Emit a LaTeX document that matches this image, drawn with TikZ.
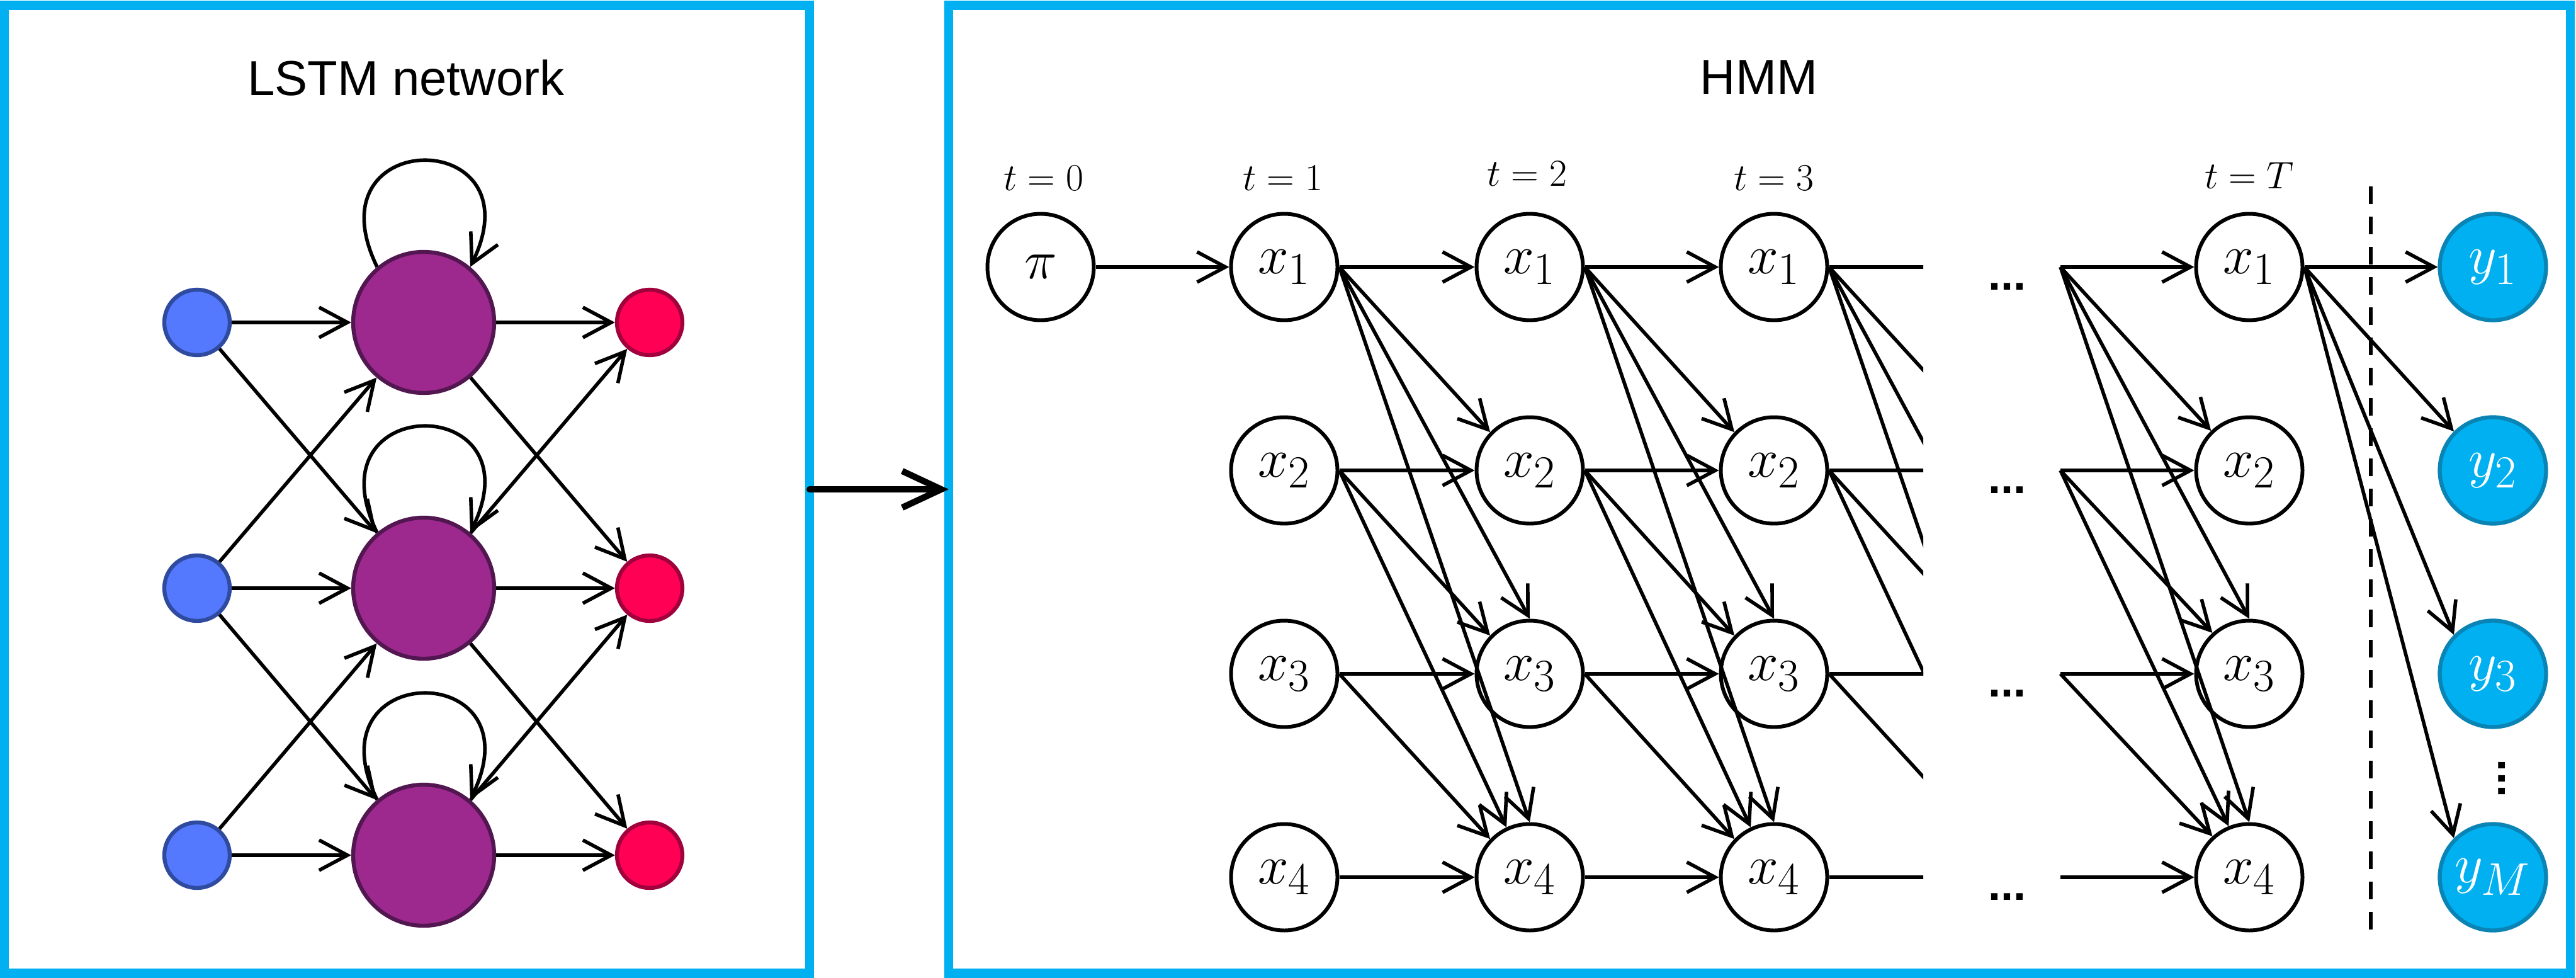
\documentclass[tikz,border=0pt]{standalone}
\usepackage{fontspec}
\newfontfamily\labelfont{Liberation Sans}
\usetikzlibrary{arrows.meta}

\definecolor{framecol}{HTML}{00B0F0}
\definecolor{infill}{HTML}{5479FF}
\definecolor{indraw}{HTML}{2F4B9F}
\definecolor{cellfill}{HTML}{9E298E}
\definecolor{celldraw}{HTML}{521650}
\definecolor{outfill}{HTML}{FF0055}
\definecolor{outdraw}{HTML}{A0003C}
\definecolor{obsfill}{HTML}{00B0F0}
\definecolor{obsdraw}{HTML}{0A84B4}

\begin{document}
\begin{tikzpicture}[
    arr/.style={line width=1.6pt, -{Straight Barb[length=4.5mm,width=4.8mm]}},
    bigarr/.style={line width=2.85pt, line cap=round, -{Straight Barb[length=6.2mm,width=5.8mm]}},
    panel/.style={draw=framecol, line width=4pt, outer sep=0pt},
    unit/.style={circle, inner sep=0pt, line width=1.8pt},
    innode/.style={unit, minimum size=1.04cm, fill=infill, draw=indraw},
    cell/.style={unit, minimum size=2.24cm, fill=cellfill, draw=celldraw},
    outnode/.style={unit, minimum size=1.04cm, fill=outfill, draw=outdraw},
    state/.style={circle, draw, fill=white, inner sep=0pt, line width=1.7pt,
      minimum size=1.69cm, font=\fontsize{24.88}{28}\selectfont},
    ghost/.style={circle, inner sep=0pt, minimum size=1.69cm},
    obs/.style={state, fill=obsfill, draw=obsdraw, line width=1.8pt, text=white},
    stamp/.style={font=\fontsize{17.28}{20}\selectfont},
    heading/.style={font=\labelfont\fontsize{22.2}{26}\selectfont},
    etc/.style={font=\labelfont\bfseries\fontsize{20.5}{24}\selectfont},
  ]
  \useasboundingbox (0,0) rectangle (40.92,-15.53);

  % panels
  \node[panel, minimum width=12.79cm, minimum height=15.37cm] (lstm) at (6.465,-7.77) {};
  \node[panel, minimum width=25.76cm, minimum height=15.37cm] (hmm) at (27.95,-7.77) {};
  \node[heading] (lstmtitle) at (6.45,-1.24) {LSTM network};
  \node[heading] (hmmtitle) at (27.94,-1.23) {HMM};
  \draw[bigarr] (lstm.east) -- (hmm.west);

  % LSTM network
  \foreach \r/\yy in {1/-5.12,2/-9.34,3/-13.58} {
    \node[innode] (A\r_0) at (3.13,\yy) {};
    \node[cell] (A\r_1) at (6.73,\yy) {};
    \node[outnode] (A\r_2) at (10.32,\yy) {};
  }
  \foreach \r/\s in {1/1,1/2,2/1,2/2,2/3,3/2,3/3} {
    \path (A\r_0) edge [arr] (A\s_1);
    \path (A\s_1) edge [arr] (A\r_2);
  }
  \foreach \r in {1,2,3}
    \draw[arr] (A\r_1.130) .. controls +(116:2.5) and +(64:2.5) .. (A\r_1.50);

  % HMM trellis
  \node[stamp] (T0) at (16.58,-2.83) {$t=0$};
  \node[stamp] (T1) at (20.38,-2.83) {$t=1$};
  \node[stamp] (T2) at (24.26,-2.76) {$t=2$};
  \node[stamp] (T3) at (28.18,-2.83) {$t=3$};
  \node[stamp] (TT) at (35.73,-2.79) {$t=T$};
  \node[state] (B1_0) at (16.53,-4.24) {$\pi$};
  \foreach \r/\yy in {1/-4.24,2/-7.47,3/-10.70,4/-13.93} {
    \foreach \c/\xx in {1/20.40,2/24.30,3/28.18,5/35.73}
      \node[state] (B\r_\c) at (\xx,\yy) {$x_\r$};
    \node[ghost] (B\r_4) at (32.08,\yy) {};
    \coordinate (D\r) at (32.73,\yy);
    \node[etc] (E\r) at (31.88,\yy-0.31) {...};
  }
  \path (B1_0) edge [arr] (B1_1);
  \begin{scope}
    \clip (0,0) rectangle (30.55,-15.53);
    \foreach \c/\n in {1/2,2/3,3/4} {
      \foreach \r in {1,2,3,4}
        \path (B\r_\c) edge [arr] (B\r_\n);
      \foreach \r/\s/\a in {1/2/136,1/3/90,1/4/90,2/3/136,2/4/115,3/4/136}
        \path (B\r_\c.east) edge [arr] (B\s_\n.\a);
    }
  \end{scope}
  \foreach \r in {1,2,3,4}
    \path (D\r) edge [arr] (B\r_5);
  \foreach \r/\s/\a in {1/2/134,1/3/90,1/4/90,2/3/132,2/4/112,3/4/132}
    \path (D\r) edge [arr] (B\s_5.\a);

  % observations
  \draw[line width=1.7pt, dash pattern=on 2.8mm off 2mm] (37.66,-2.96) -- (37.66,-14.76);
  \node[obs] (C1) at (39.60,-4.24) {$y_1$};
  \node[obs] (C2) at (39.60,-7.47) {$y_2$};
  \node[obs] (C3) at (39.60,-10.70) {$y_3$};
  \node[obs] (C4) at (39.60,-13.93) {$y_M$};
  \node[etc, rotate=90] (E5) at (39.74,-12.36) {...};
  \path (B1_5) edge [arr] (C1);
  \foreach \s in {2,3,4}
    \path (B1_5.east) edge [arr] (C\s.135);
\end{tikzpicture}
\end{document}
